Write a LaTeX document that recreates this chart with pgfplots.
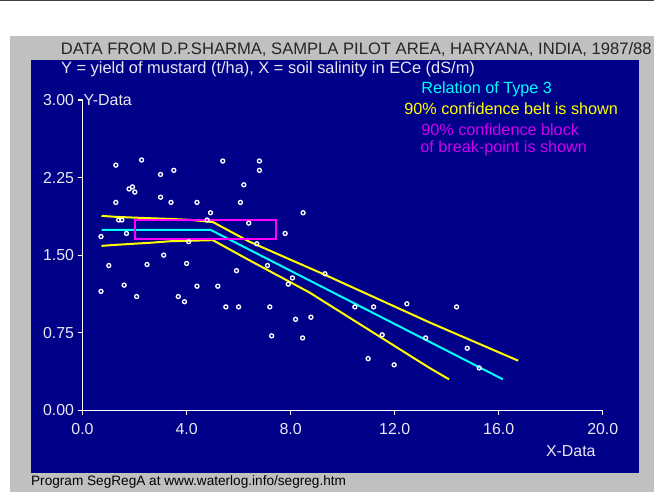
\documentclass[border=0pt]{standalone}
\usepackage{pgfplots}
\pgfplotsset{compat=1.18}
\usepackage{pgfplotstable}
\usepackage{fontspec}
\setmainfont{Liberation Sans}

\definecolor{panelblue}{HTML}{000088}
\definecolor{panelgray}{HTML}{C0C0C0}
\definecolor{regcyan}{HTML}{00FFFF}
\definecolor{beltyellow}{HTML}{FFFF00}
\definecolor{blockmag}{HTML}{FF00FF}
\definecolor{textmag}{HTML}{D000F0}
\definecolor{ticklab}{HTML}{E8E8F0}
\definecolor{titlegray}{HTML}{262626}

\newcommand{\fs}[1]{\fontsize{#1}{#1}\selectfont}

% yield of mustard (t/ha) vs soil salinity ECe (dS/m)
\pgfplotstableread{
x y
0.71 1.68
0.71 1.15
1.01 1.40
1.28 2.37
1.28 2.01
1.39 1.84
1.51 1.84
1.60 1.21
1.69 1.71
1.79 2.14
1.92 2.16
2.01 2.11
2.08 1.10
2.27 2.42
2.48 1.41
3.00 2.28
3.00 2.06
3.12 1.50
3.40 2.01
3.51 2.32
3.68 1.10
3.92 1.05
4.00 1.42
4.08 1.63
4.40 2.01
4.40 1.20
4.79 1.84
4.92 1.91
5.20 1.20
5.39 2.41
5.51 1.00
5.92 1.35
6.00 1.00
6.07 2.01
6.20 2.18
6.39 1.81
6.70 1.61
6.80 2.41
6.80 2.32
7.11 1.40
7.20 1.00
7.27 0.72
7.79 1.71
7.91 1.22
8.07 1.28
8.19 0.88
8.46 0.70
8.48 1.91
8.78 0.90
9.32 1.32
10.47 1.00
10.98 0.50
11.19 1.00
11.52 0.73
11.98 0.44
12.47 1.03
13.19 0.70
14.38 1.00
14.79 0.60
15.25 0.41
}\mustard

\begin{document}
\begin{tikzpicture}
\begin{scope}[x=1bp,y=1bp]
\useasboundingbox (0,0) rectangle (655,493);
\fill[white] (0,0) rectangle (655,493);
\draw[black!75, line width=1.2bp] (0,492.4) -- (655,492.4);
\fill[panelgray] (10,0) rectangle (655,457);
\fill[panelblue] (31,19) rectangle (640,433);
\end{scope}

\begin{axis}[
  at={(82.7bp,81.8bp)}, anchor=south west,
  scale only axis,
  width=521.3bp, height=311bp,
  xmin=0, xmax=20, ymin=0, ymax=3,
  axis lines*=left,
  axis line style={white, line width=1.2bp},
  tick pos=left,
  tick align=outside,
  major tick length=5bp,
  tick style={white, line width=1.2bp},
  xtick={0,4,8,12,16,20},
  ytick={0,0.75,1.5,2.25,3},
  /pgf/number format/assume math mode=true,
  ticklabel style={font=\fs{16}, text=ticklab},
  xticklabel style={yshift=-5bp, /pgf/number format/fixed, /pgf/number format/fixed zerofill, /pgf/number format/precision=1},
  yticklabel style={/pgf/number format/fixed, /pgf/number format/fixed zerofill, /pgf/number format/precision=2},
  clip=false,
]
% regression line, type 3
\addplot[regcyan, line width=2bp] coordinates {(0.73,1.745) (4.92,1.745) (16.16,0.30)};
% 90% confidence belt
\addplot[beltyellow, line width=2bp] coordinates {
  (0.73,1.88) (1.3,1.87) (2.6,1.857) (3.4,1.85) (4.2,1.84) (5.01,1.82)
  (6.42,1.63) (9.32,1.31) (13.34,0.85) (16.75,0.48)};
\addplot[beltyellow, line width=2bp] coordinates {
  (0.73,1.59) (1.3,1.60) (2.6,1.62) (3.4,1.635) (4.2,1.64) (5.01,1.645)
  (6.42,1.45) (8.72,1.14) (13.34,0.41) (14.09,0.30)};
% 90% confidence block of break-point
\addplot[blockmag, line width=2bp] coordinates {(2.03,1.66) (7.44,1.66) (7.44,1.84) (2.03,1.84)} -- cycle;
% observations
\addplot[only marks, mark=o, mark size=2bp, mark options={white, line width=1.3bp}] table {\mustard};

\node[anchor=west, text=ticklab, font=\fs{16}, inner sep=1bp] at (rel axis cs:0,1) {Y-Data};
\node[text=ticklab, font=\fs{16}] at (axis cs:18.77,0) [yshift=-41bp] {X-Data};
\end{axis}

\begin{scope}[x=1bp,y=1bp]
\node[text=titlegray, font=\fs{16.7}] at (357,443) {DATA FROM D.P.SHARMA, SAMPLA PILOT AREA, HARYANA, INDIA, 1987/88};
\node[anchor=west, inner sep=0, text=ticklab, font=\fs{16.5}] at (61,424) {Y = yield of mustard (t/ha), X = soil salinity in ECe (dS/m)};
\node[anchor=west, inner sep=0, text=regcyan, font=\fs{16.3}] at (422,403) {Relation of Type 3};
\node[anchor=west, inner sep=0, text=beltyellow, font=\fs{16.3}] at (405,384) {90\% confidence belt is shown};
\node[anchor=west, inner sep=0, text=textmag, font=\fs{16.3}] at (422,363) {90\% confidence block};
\node[anchor=west, inner sep=0, text=textmag, font=\fs{16.3}] at (421,344) {of break-point is shown};
\node[anchor=west, inner sep=0, text=black, font=\fs{13.7}] at (31,10) {Program SegRegA at www.waterlog.info/segreg.htm};
\end{scope}
\end{tikzpicture}
\end{document}
